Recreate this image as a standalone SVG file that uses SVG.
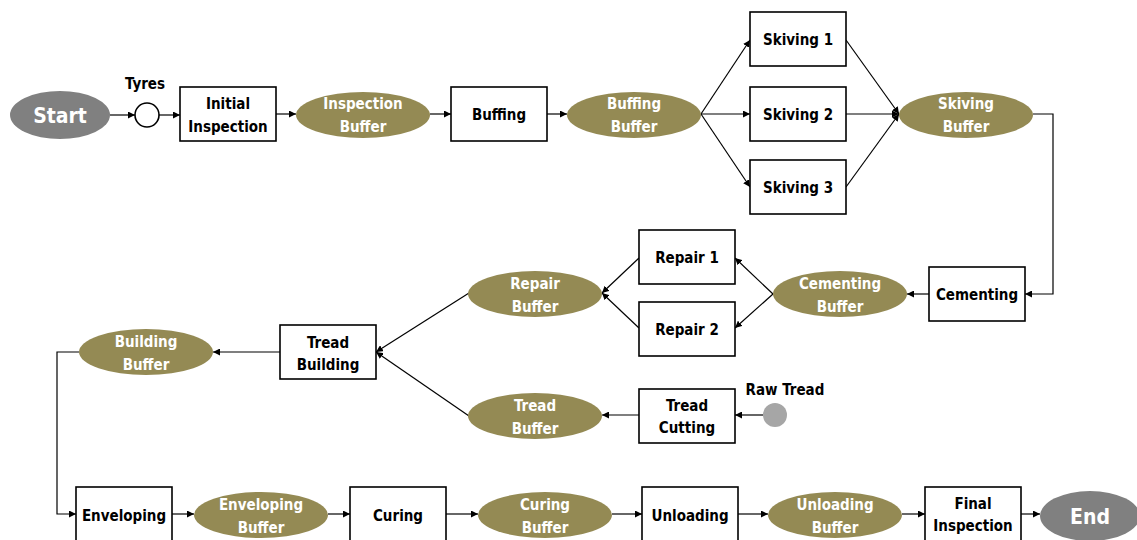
<svg xmlns="http://www.w3.org/2000/svg" width="1137" height="540" viewBox="0 0 1137 540">
  <defs>
    <marker id="arr" viewBox="0 0 10 10" refX="10" refY="5" markerWidth="7" markerHeight="7" markerUnits="userSpaceOnUse" orient="auto">
      <path d="M0,0 L10,5 L0,10 z" fill="#000"/>
    </marker>
    <style>
      text { font-family: "DejaVu Sans Condensed", "DejaVu Sans", sans-serif; font-stretch: condensed; font-weight: bold; text-anchor: middle; }
      .box rect { fill: #fff; stroke: #000; stroke-width: 1.6; }
      .box text { fill: #000; font-size: 15px; }
      .buf ellipse { fill: #948A54; }
      .buf text { fill: #fff; font-size: 15px; }
      .term ellipse { fill: #808080; }
      .term text { fill: #fff; font-size: 21px; }
      .lbl { fill: #000; font-size: 15px; }
      #connectors path, #connectors line { fill: none; stroke: #000; stroke-width: 1.2; marker-end: url(#arr); }
    </style>
  </defs>

  <rect width="1137" height="540" fill="#fff"/>

  <!-- connectors -->
  <g id="connectors">
    <line x1="110" y1="115" x2="135" y2="115"/>
    <line x1="159" y1="115" x2="180" y2="115"/>
    <line x1="276" y1="114" x2="296" y2="114"/>
    <line x1="430" y1="114" x2="451" y2="114"/>
    <line x1="547" y1="114" x2="567" y2="114"/>
    <line x1="701" y1="114" x2="750" y2="40"/>
    <line x1="701" y1="114" x2="750" y2="114"/>
    <line x1="701" y1="114" x2="750" y2="187"/>
    <line x1="846" y1="40" x2="899" y2="114"/>
    <line x1="846" y1="114" x2="899" y2="114"/>
    <line x1="846" y1="187" x2="899" y2="114"/>
    <path d="M1033,114 H1053 V294 H1025"/>
    <line x1="929" y1="294" x2="907" y2="294"/>
    <line x1="773" y1="294" x2="735" y2="258"/>
    <line x1="773" y1="294" x2="735" y2="328"/>
    <line x1="639" y1="258" x2="602" y2="293"/>
    <line x1="639" y1="328" x2="602" y2="293"/>
    <line x1="469" y1="293" x2="376" y2="352"/>
    <line x1="469" y1="416" x2="376" y2="352"/>
    <line x1="763" y1="415" x2="735" y2="415"/>
    <line x1="639" y1="415" x2="602" y2="415"/>
    <line x1="280" y1="352" x2="213" y2="352"/>
    <path d="M79,352 H57 V514 H76"/>
    <line x1="172" y1="514" x2="194" y2="514"/>
    <line x1="328" y1="514" x2="350" y2="514"/>
    <line x1="446" y1="514" x2="478" y2="514"/>
    <line x1="612" y1="514" x2="642" y2="514"/>
    <line x1="738" y1="514" x2="768" y2="514"/>
    <line x1="902" y1="514" x2="925" y2="514"/>
    <line x1="1021" y1="514" x2="1040" y2="514"/>
  </g>

  <!-- terminals and sources -->
  <g id="start" class="term">
    <ellipse cx="60" cy="115" rx="50" ry="24"/>
    <text x="60" y="123">Start</text>
  </g>
  <g id="tyres">
    <circle cx="147" cy="115" r="12" fill="#fff" stroke="#000" stroke-width="1.6"/>
    <text class="lbl" x="145" y="89">Tyres</text>
  </g>
  <g id="raw-tread">
    <circle cx="775" cy="415" r="12" fill="#A6A6A6"/>
    <text class="lbl" x="785" y="395">Raw Tread</text>
  </g>
  <g id="end" class="term">
    <ellipse cx="1090" cy="516" rx="50" ry="25"/>
    <text x="1090" y="524">End</text>
  </g>

  <!-- top row -->
  <g id="initial-inspection" class="box">
    <rect x="180" y="87" width="96" height="54"/>
    <text x="228" y="109">Initial</text>
    <text x="228" y="132">Inspection</text>
  </g>
  <g id="inspection-buffer" class="buf">
    <ellipse cx="363" cy="115" rx="67" ry="23"/>
    <text x="363" y="109">Inspection</text>
    <text x="363" y="132">Buffer</text>
  </g>
  <g id="buffing" class="box">
    <rect x="451" y="87" width="96" height="54"/>
    <text x="499" y="120">Buffing</text>
  </g>
  <g id="buffing-buffer" class="buf">
    <ellipse cx="634" cy="115" rx="67" ry="23"/>
    <text x="634" y="109">Buffing</text>
    <text x="634" y="132">Buffer</text>
  </g>
  <g id="skiving-1" class="box">
    <rect x="750" y="12" width="96" height="54"/>
    <text x="798" y="45">Skiving 1</text>
  </g>
  <g id="skiving-2" class="box">
    <rect x="750" y="87" width="96" height="54"/>
    <text x="798" y="120">Skiving 2</text>
  </g>
  <g id="skiving-3" class="box">
    <rect x="750" y="160" width="96" height="54"/>
    <text x="798" y="193">Skiving 3</text>
  </g>
  <g id="skiving-buffer" class="buf">
    <ellipse cx="966" cy="115" rx="67" ry="23"/>
    <text x="966" y="109">Skiving</text>
    <text x="966" y="132">Buffer</text>
  </g>

  <!-- middle rows -->
  <g id="cementing" class="box">
    <rect x="929" y="267" width="96" height="54"/>
    <text x="977" y="300">Cementing</text>
  </g>
  <g id="cementing-buffer" class="buf">
    <ellipse cx="840" cy="294" rx="67" ry="23"/>
    <text x="840" y="289">Cementing</text>
    <text x="840" y="312">Buffer</text>
  </g>
  <g id="repair-1" class="box">
    <rect x="639" y="230" width="96" height="54"/>
    <text x="687" y="263">Repair 1</text>
  </g>
  <g id="repair-2" class="box">
    <rect x="639" y="302" width="96" height="54"/>
    <text x="687" y="335">Repair 2</text>
  </g>
  <g id="repair-buffer" class="buf">
    <ellipse cx="535" cy="294" rx="67" ry="23"/>
    <text x="535" y="289">Repair</text>
    <text x="535" y="312">Buffer</text>
  </g>
  <g id="tread-cutting" class="box">
    <rect x="639" y="389" width="96" height="54"/>
    <text x="687" y="411">Tread</text>
    <text x="687" y="433">Cutting</text>
  </g>
  <g id="tread-buffer" class="buf">
    <ellipse cx="535" cy="416" rx="67" ry="23"/>
    <text x="535" y="411">Tread</text>
    <text x="535" y="434">Buffer</text>
  </g>
  <g id="tread-building" class="box">
    <rect x="280" y="325" width="96" height="54"/>
    <text x="328" y="348">Tread</text>
    <text x="328" y="370">Building</text>
  </g>
  <g id="building-buffer" class="buf">
    <ellipse cx="146" cy="352" rx="67" ry="23"/>
    <text x="146" y="347">Building</text>
    <text x="146" y="370">Buffer</text>
  </g>

  <!-- bottom row -->
  <g id="enveloping" class="box">
    <rect x="76" y="487" width="96" height="64"/>
    <text x="124" y="521">Enveloping</text>
  </g>
  <g id="enveloping-buffer" class="buf">
    <ellipse cx="261" cy="515" rx="67" ry="23"/>
    <text x="261" y="510">Enveloping</text>
    <text x="261" y="533">Buffer</text>
  </g>
  <g id="curing" class="box">
    <rect x="350" y="487" width="96" height="64"/>
    <text x="398" y="521">Curing</text>
  </g>
  <g id="curing-buffer" class="buf">
    <ellipse cx="545" cy="515" rx="67" ry="23"/>
    <text x="545" y="510">Curing</text>
    <text x="545" y="533">Buffer</text>
  </g>
  <g id="unloading" class="box">
    <rect x="642" y="487" width="96" height="64"/>
    <text x="690" y="521">Unloading</text>
  </g>
  <g id="unloading-buffer" class="buf">
    <ellipse cx="835" cy="515" rx="67" ry="23"/>
    <text x="835" y="510">Unloading</text>
    <text x="835" y="533">Buffer</text>
  </g>
  <g id="final-inspection" class="box">
    <rect x="925" y="487" width="96" height="64"/>
    <text x="973" y="509">Final</text>
    <text x="973" y="531">Inspection</text>
  </g>
</svg>
